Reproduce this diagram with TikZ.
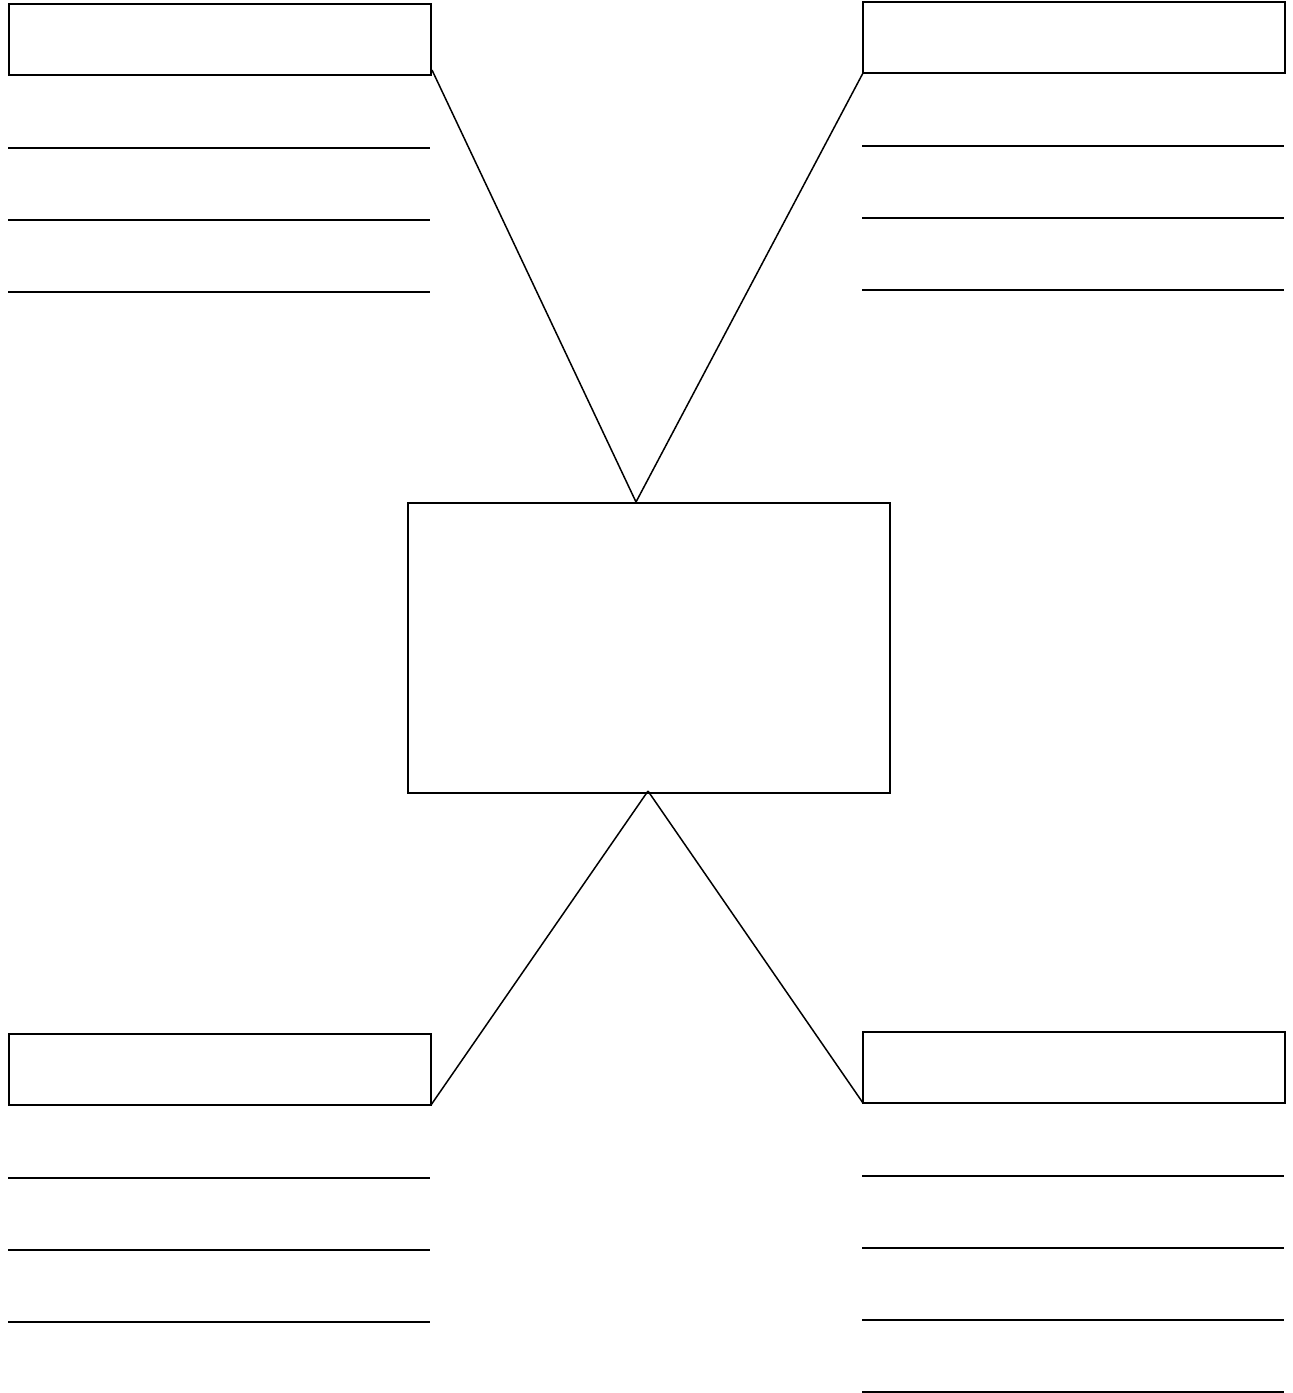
\documentclass[tikz,border=0pt]{standalone}
\begin{document}
\begin{tikzpicture}[x=1pt,y=-1pt,
  labelbox/.style={draw=black,line width=2pt,minimum width=422pt,minimum height=71pt,inner sep=0pt,outer sep=0pt,anchor=north west},
  centerbox/.style={draw=black,line width=1.6pt,minimum width=482pt,minimum height=290pt,inner sep=0pt,outer sep=0pt,anchor=north west},
  rule/.style={draw=black,line width=2pt},
  link/.style={draw=black,line width=1.5pt}]
\useasboundingbox (0,0) rectangle (1293,1393);
% boxes
\node[labelbox] (tl) at (9,4) {};
\node[labelbox] (tr) at (863,2) {};
\node[labelbox] (bl) at (9,1034) {};
\node[labelbox] (br) at (863,1032) {};
\node[centerbox] (c) at (408,503) {};
% ruled lines
\foreach \y in {148,220,292} \draw[rule] (8,\y) -- (430,\y);
\foreach \y in {146,218,290} \draw[rule] (862,\y) -- (1284,\y);
\foreach \y in {1178,1250,1322} \draw[rule] (8,\y) -- (430,\y);
\foreach \y in {1176,1248,1320,1392} \draw[rule] (862,\y) -- (1284,\y);
% connector anchors
\coordinate (ctop) at (636,502);
\coordinate (cbot) at (648,791);
\coordinate (tlc) at (432,70);
% connectors
\draw[link] (tlc) -- (ctop);
\draw[link] (tr.south west) -- (ctop);
\draw[link] (cbot) -- (bl.south east);
\draw[link] (cbot) -- (br.south west);
\end{tikzpicture}
\end{document}
